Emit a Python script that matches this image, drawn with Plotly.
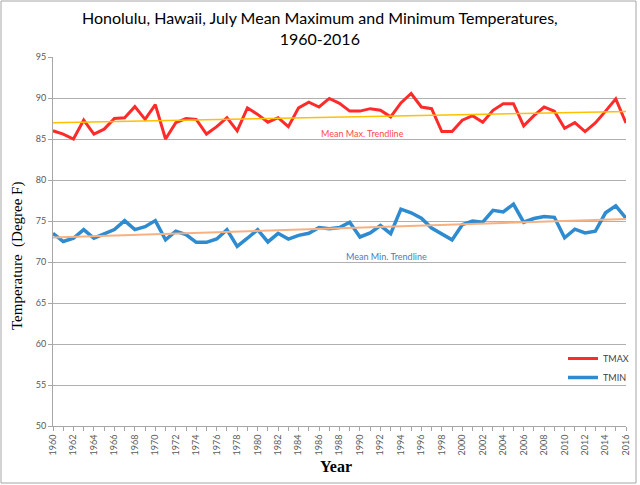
import numpy as np
import plotly.graph_objects as go

years = list(range(1960, 2017))

tmax = [86.0, 85.6, 85.0, 87.3, 85.6, 86.2, 87.5, 87.6, 88.95, 87.4,
        89.2, 85.0, 87.0, 87.5, 87.4, 85.6, 86.5, 87.6, 86.0, 88.8,
        88.0, 87.05, 87.6, 86.5, 88.8, 89.5, 88.9, 89.95, 89.35, 88.4,
        88.4, 88.7, 88.5, 87.7, 89.4, 90.55, 88.9, 88.7, 85.9, 85.9,
        87.3, 87.85, 87.05, 88.5, 89.3, 89.3, 86.6, 87.85, 88.9, 88.4,
        86.3, 87.0, 85.9, 86.95, 88.4, 89.9, 86.95]

tmin = [73.5, 72.5, 72.9, 73.95, 72.9, 73.45, 73.95, 75.05, 73.95, 74.3,
        75.05, 72.7, 73.75, 73.35, 72.4, 72.4, 72.8, 73.95, 71.9, 72.9,
        73.95, 72.45, 73.5, 72.8, 73.25, 73.5, 74.2, 74.05, 74.2, 74.85,
        73.05, 73.55, 74.45, 73.45, 76.45, 76.0, 75.35, 74.15, 73.45, 72.7,
        74.55, 75.0, 74.85, 76.3, 76.1, 77.05, 74.85, 75.3, 75.55, 75.45,
        72.95, 74.0, 73.55, 73.75, 76.0, 76.85, 75.35]

title_text = "Honolulu, Hawaii, July Mean Maximum and Minimum Temperatures,<br>1960-2016"
ytitle = "Temperature  (Degree F)"
xtitle = "Year"

# linear trendlines from the data
yr = np.array(years, dtype=float)
pmax = np.polyfit(yr, np.array(tmax), 1)
pmin = np.polyfit(yr, np.array(tmin), 1)
tr_x = [years[0], years[-1]]
tr_max = list(np.polyval(pmax, tr_x))
tr_min = list(np.polyval(pmin, tr_x))

L, R, T, B = 53, 14, 57, 59
PW, PH = 640 - L - R, 485 - T - B

def px(xpix):
    return (xpix - L) / PW

def py(ypix):
    return (485 - B - ypix) / PH

fig = go.Figure()
fig.add_trace(go.Scatter(x=years, y=tmax, mode="lines", name="TMAX",
                         line=dict(color="#ff2b2b", width=3)))
fig.add_trace(go.Scatter(x=years, y=tmin, mode="lines", name="TMIN",
                         line=dict(color="#2e8bd0", width=3.5)))
fig.add_trace(go.Scatter(x=tr_x, y=tr_max, mode="lines", showlegend=False,
                         hoverinfo="skip", line=dict(color="#ffc000", width=1.5)))
fig.add_trace(go.Scatter(x=tr_x, y=tr_min, mode="lines", showlegend=False,
                         hoverinfo="skip", line=dict(color="#f6b183", width=2)))

fig.add_annotation(x=1990.2, y=85.73, text="Mean Max. Trendline", showarrow=False,
                   font=dict(family="Lato", size=9, color="#ff4a4a"))
fig.add_annotation(x=1992.55, y=70.73, text="Mean Min. Trendline", showarrow=False,
                   font=dict(family="Lato", size=9, color="#3f7fc4"))

# chart title
fig.add_annotation(xref="paper", yref="paper", x=px(320), y=py(6),
                   xanchor="center", yanchor="top", showarrow=False,
                   text=title_text, align="center",
                   font=dict(family="Lato", size=16, color="#000000"))

# axis titles
fig.add_annotation(xref="paper", yref="paper", x=px(18), y=py(256),
                   xanchor="center", yanchor="middle", showarrow=False, textangle=-90,
                   text=ytitle, font=dict(family="Liberation Serif", size=15, color="#000000"))
fig.add_annotation(xref="paper", yref="paper", x=px(336), y=py(466),
                   xanchor="center", yanchor="middle", showarrow=False,
                   text="<b>" + xtitle + "</b>",
                   font=dict(family="Liberation Serif", size=16, color="#000000"))

# outer chart frame
fig.add_shape(type="rect", xref="paper", yref="paper",
              x0=px(1), x1=px(636), y0=py(483), y1=py(1),
              line=dict(color="#a6a6a6", width=1), fillcolor="rgba(0,0,0,0)", layer="below")

fig.update_layout(
    width=640, height=485,
    margin=dict(l=L, r=R, t=T, b=B, autoexpand=False),
    paper_bgcolor="white", plot_bgcolor="white",
    showlegend=True,
    legend=dict(x=px(563), y=py(344), xanchor="left", yanchor="top",
                font=dict(family="Lato", size=9, color="#404040"),
                bgcolor="rgba(0,0,0,0)", itemwidth=30, tracegroupgap=0),
    xaxis=dict(range=[1960, 2016], tickmode="linear", tick0=1960, dtick=2,
               tickangle=-90, ticks="outside", ticklen=4, tickcolor="#a6a6a6",
               minor=dict(dtick=1, ticks="outside", ticklen=4, tickcolor="#a6a6a6", showgrid=False),
               showline=True, linecolor="#a6a6a6", linewidth=1, showgrid=False, zeroline=False,
               automargin=False,
               tickfont=dict(family="Lato", size=9, color="#595959")),
    yaxis=dict(range=[50, 95], tickmode="linear", tick0=50, dtick=5,
               ticks="outside", ticklen=4, tickcolor="#a6a6a6",
               showline=True, linecolor="#a6a6a6", linewidth=1,
               showgrid=True, gridcolor="#b0b0b0", gridwidth=1, zeroline=False,
               automargin=False,
               tickfont=dict(family="Lato", size=9, color="#595959")),
)

fig.write_html("out.html", config={"displayModeBar": False},
               post_script="document.body.style.margin='0';document.body.style.overflow='hidden';")
